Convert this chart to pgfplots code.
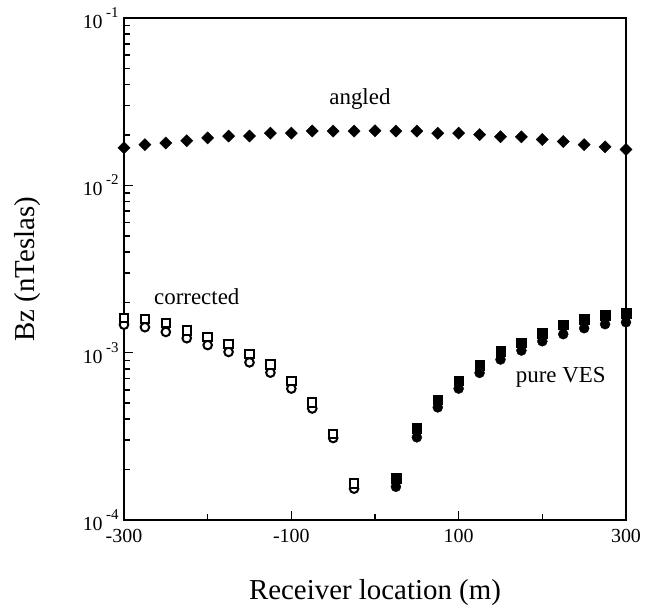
\documentclass[border=0pt]{standalone}
\usepackage{fontspec}
\setmainfont{Liberation Serif}
\usepackage{pgfplots}
\pgfplotsset{compat=1.18}
\newcommand{\tl}[1]{10\,\raisebox{0.55em}{\fontsize{15}{15}\selectfont #1}}
\begin{document}
\begin{tikzpicture}
\path[use as bounding box] (-124bp,-88bp) rectangle (535bp,520bp);
\begin{axis}[
  at={(0,0)}, anchor=south west,
  scale only axis, width=502bp, height=502bp,
  ymode=log, xmin=-300, xmax=300, ymin=1e-4, ymax=1e-1,
  clip=false,
  axis line style={line width=2.8bp},
  tick align=inside, xtick pos=bottom, ytick pos=left,
  major tick length=9bp, minor tick length=6bp,
  every tick/.style={line width=1.6bp, black},
  xtick={-300,-100,100,300}, minor xtick={-200,0,200},
  xticklabels={-300,-100,100,300},
  ytick={1e-4,1e-3,1e-2,1e-1},
  yticklabels={\tl{-4},\tl{-3},\tl{-2},\tl{-1}},
  ticklabel style={font=\fontsize{20}{20}\selectfont},
  xticklabel style={yshift=-6bp},
  yticklabel style={xshift=-2bp},
  xlabel={Receiver location (m)},
  ylabel={Bz (nTeslas)},
  xlabel style={font=\fontsize{29}{29}\selectfont, at={(axis description cs:0.5,-0.159)}, anchor=base},
  ylabel style={font=\fontsize{29}{29}\selectfont, at={(axis description cs:-0.193,0.5)}, anchor=center},
]
\addplot[only marks, mark=square*, mark size=4.3bp, black, mark options={rotate=45}] coordinates {
(-300,0.01675) (-275,0.0175) (-250,0.0179) (-225,0.0185) (-200,0.0192) (-175,0.0197) (-150,0.0197) (-125,0.0205) (-100,0.0205) (-75,0.0211) (-50,0.0211) (-25,0.0211) (0,0.0212) (25,0.0211) (50,0.0211) (75,0.0205) (100,0.0205) (125,0.0201) (150,0.0195) (175,0.0195) (200,0.0188) (225,0.0183) (250,0.0175) (275,0.0170) (300,0.0164)};
% pure VES, negative (open circle)
\addplot[only marks, mark=*, mark size=4.3bp, black, mark options={fill=white, line width=2bp}] coordinates {
(-300,1.47e-3) (-275,1.42e-3) (-250,1.33e-3) (-225,1.22e-3) (-200,1.11e-3) (-175,1.01e-3) (-150,8.75e-4) (-125,7.6e-4) (-100,6.1e-4) (-75,4.64e-4) (-50,3.09e-4) (-25,1.54e-4)};
% corrected, negative (open square)
\addplot[only marks, mark=square*, mark size=4.2bp, black, mark options={fill=white, line width=2bp}] coordinates {
(-300,1.61e-3) (-275,1.59e-3) (-250,1.50e-3) (-225,1.36e-3) (-200,1.24e-3) (-175,1.13e-3) (-150,9.8e-4) (-125,8.5e-4) (-100,6.8e-4) (-75,5.03e-4) (-50,3.27e-4) (-25,1.65e-4)};
% pure VES, positive (filled circle)
\addplot[only marks, mark=*, mark size=5bp, black] coordinates {
(25,1.58e-4) (50,3.12e-4) (75,4.71e-4) (100,6.1e-4) (125,7.57e-4) (150,9.1e-4) (175,1.03e-3) (200,1.17e-3) (225,1.29e-3) (250,1.40e-3) (275,1.48e-3) (300,1.52e-3)};
% corrected, positive (filled square)
\addplot[only marks, mark=square*, mark size=4.8bp, black] coordinates {
(25,1.78e-4) (50,3.53e-4) (75,5.24e-4) (100,6.8e-4) (125,8.45e-4) (150,1.02e-3) (175,1.15e-3) (200,1.31e-3) (225,1.47e-3) (250,1.59e-3) (275,1.67e-3) (300,1.72e-3)};
\node[font=\fontsize{23}{23}\selectfont] at (axis cs:-18,0.033) {angled};
\node[font=\fontsize{23}{23}\selectfont] at (axis cs:-213,2.15e-3) {corrected};
\node[font=\fontsize{23}{23}\selectfont] at (axis cs:222,7.1e-4) {pure VES};
\end{axis}
\end{tikzpicture}
\end{document}
